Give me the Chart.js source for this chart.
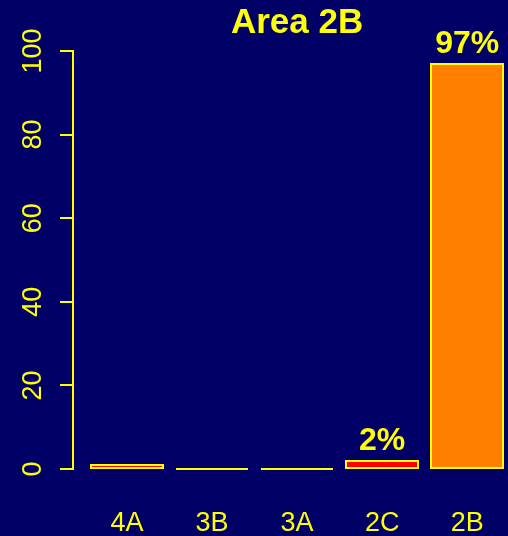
<!DOCTYPE html>
<html>
<head>
<meta charset="utf-8">
<script src="https://cdn.jsdelivr.net/npm/chart.js@4/dist/chart.umd.min.js"></script>
<style>
  html, body { margin: 0; padding: 0; background: #000066; }
  #wrap { width: 508px; height: 536px; position: relative; }
</style>
</head>
<body>
<div id="wrap"><canvas id="myChart"></canvas></div>
<script>
// chart data
const chartTitle = "Area 2B";
const categories = ["4A", "3B", "3A", "2C", "2B"];
const percentages = [1, 0, 0, 2, 97];
const barColors = ["#FF0000", "#FF0000", "#FF0000", "#FF0000", "#FF8000"];
const yTicks = [0, 20, 40, 60, 80, 100];

const YELLOW = "#FFFF00";
const FONT = '"Liberation Sans", Arial, Helvetica, sans-serif';
Chart.defaults.font.family = FONT;

// yellow outline round each bar (drawn centred on the bar edge) + labels + title
const decorate = {
  id: "decorate",
  afterDatasetsDraw(chart) {
    const ctx = chart.ctx;
    const meta = chart.getDatasetMeta(0);
    ctx.save();
    ctx.strokeStyle = YELLOW;
    ctx.lineWidth = 2;
    meta.data.forEach((bar) => {
      const p = bar.getProps(["x", "y", "base", "width"], true);
      const left = Math.round(p.x - p.width / 2);
      const right = Math.round(p.x + p.width / 2);
      const top = Math.round(p.y);
      const bottom = Math.round(p.base);
      ctx.strokeRect(left, top, right - left, bottom - top);
    });

    ctx.fillStyle = YELLOW;
    ctx.textAlign = "center";
    ctx.textBaseline = "alphabetic";
    ctx.font = "bold 32px " + FONT;
    meta.data.forEach((bar, i) => {
      if (percentages[i] < 2) return;
      ctx.fillText(percentages[i] + "%", bar.x, bar.y - 11);
    });

    // title centred over the middle category
    ctx.font = "bold 35px " + FONT;
    const mid = (categories.length + 1) / 2;
    ctx.fillText(chartTitle, chart.scales.x.getPixelForValue(mid), 33);
    ctx.restore();
  },
};

const ctx = document.getElementById("myChart").getContext("2d");
new Chart(ctx, {
  type: "bar",
  data: {
    datasets: [
      {
        data: categories.map((c, i) => ({ x: i + 1, y: percentages[i] })),
        backgroundColor: barColors,
        borderWidth: 0,
        barPercentage: 0.85,
        categoryPercentage: 1,
        clip: false,
      },
    ],
  },
  options: {
    responsive: true,
    maintainAspectRatio: false,
    animation: false,
    layout: { padding: { top: 51, right: 0, bottom: 0, left: 0 } },
    plugins: {
      legend: { display: false },
      tooltip: { enabled: false },
      title: { display: false },
    },
    scales: {
      x: {
        type: "linear",
        offset: false,
        min: 0.365,
        max: 5.48,
        afterBuildTicks: (scale) => {
          scale.ticks = categories.map((c, i) => ({ value: i + 1 }));
        },
        afterFit: (scale) => {
          scale.height = 67;
          scale.paddingLeft = 0;
          scale.paddingRight = 0;
        },
        grid: { display: false, drawTicks: false },
        border: { display: false },
        ticks: {
          autoSkip: false,
          maxRotation: 0,
          color: YELLOW,
          padding: 38,
          font: { size: 27 },
          callback: (v) => categories[v - 1] || "",
        },
      },
      y: {
        min: yTicks[0],
        max: yTicks[yTicks.length - 1],
        afterBuildTicks: (scale) => {
          scale.ticks = yTicks.map((v) => ({ value: v }));
        },
        afterFit: (scale) => {
          scale.width = 73;
        },
        grid: {
          drawOnChartArea: false,
          drawTicks: true,
          tickLength: 13,
          color: YELLOW,
          lineWidth: 2,
        },
        border: { display: true, color: YELLOW, width: 2 },
        ticks: {
          color: YELLOW,
          font: { size: 27 },
          minRotation: 90,
          maxRotation: 90,
          crossAlign: "center",
          padding: 4,
        },
      },
    },
  },
  plugins: [decorate],
});
</script>
</body>
</html>
